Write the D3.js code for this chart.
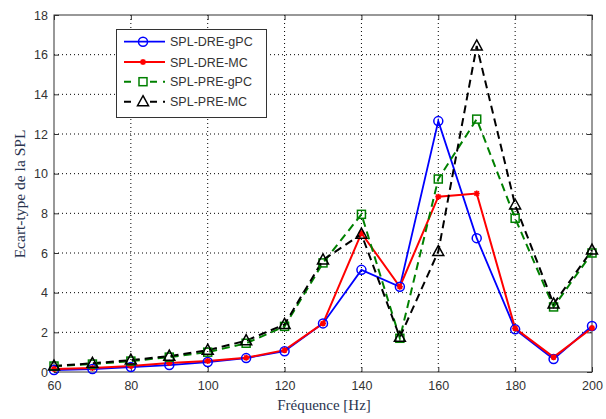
<!DOCTYPE html>
<html><head><meta charset="utf-8">
<script src="https://cdn.jsdelivr.net/npm/d3@7"></script>
<style>body{margin:0;background:#fff}svg{display:block}</style>
</head><body>
<svg id="c" width="606" height="419"></svg>
<script>
const freq = [60,70,80,90,100,110,120,130,140,150,160,170,180,190,200];
const dreGpc = [0.1,0.15,0.25,0.35,0.5,0.7,1.05,2.45,5.15,4.3,12.65,6.75,2.15,0.65,2.32];
const dreMc  = [0.15,0.2,0.3,0.45,0.55,0.72,1.1,2.45,7.0,4.3,8.84,9.0,2.2,0.75,2.22];
const preGpc = [0.3,0.4,0.55,0.75,1.0,1.45,2.3,5.5,7.95,1.7,9.73,12.75,7.75,3.28,6.0];
const preMc  = [0.3,0.44,0.6,0.8,1.1,1.58,2.4,5.65,6.95,1.75,6.07,16.44,8.42,3.43,6.15];
const xTicks = [60,80,100,120,140,160,180,200];
const yTicks = [0,2,4,6,8,10,12,14,16,18];
const seriesNames = ["SPL-DRE-gPC","SPL-DRE-MC","SPL-PRE-gPC","SPL-PRE-MC"];

const series = [
  {name:seriesNames[0], values:dreGpc, color:"#0000ff", width:1.8, dash:null, marker:"circle"},
  {name:seriesNames[1], values:dreMc, color:"#ff0000", width:2, dash:null, marker:"star"},
  {name:seriesNames[2], values:preGpc, color:"#008000", width:2, dash:"8,5", marker:"square"},
  {name:seriesNames[3], values:preMc, color:"#000000", width:2, dash:"8,5", marker:"triangle"}
];

const svg = d3.select("#c");
const L=54, R=592, T=15, B=372;
const x = d3.scaleLinear().domain([60,200]).range([L,R]);
const y = d3.scaleLinear().domain([0,18]).range([B,T]);

// grid
const g = svg.append("g");
xTicks.forEach(t=>{ if(t>60 && t<200) g.append("line").attr("x1",x(t)).attr("x2",x(t)).attr("y1",T).attr("y2",B)
  .attr("stroke","#000").attr("stroke-width",1).attr("stroke-dasharray","1,3"); });
yTicks.forEach(t=>{ if(t>0 && t<18) g.append("line").attr("x1",L).attr("x2",R).attr("y1",y(t)).attr("y2",y(t))
  .attr("stroke","#000").attr("stroke-width",1).attr("stroke-dasharray","1,3"); });

// axes
const ax = svg.append("g").attr("transform",`translate(0,${B})`)
  .call(d3.axisBottom(x).tickValues(xTicks).tickSize(-5).tickPadding(9));
const ay = svg.append("g").attr("transform",`translate(${L},0)`)
  .call(d3.axisLeft(y).tickValues(yTicks).tickSize(-5).tickPadding(6));
const axT = svg.append("g").attr("transform",`translate(0,${T})`)
  .call(d3.axisTop(x).tickValues(xTicks).tickSize(-5).tickFormat(""));
const ayR = svg.append("g").attr("transform",`translate(${R},0)`)
  .call(d3.axisRight(y).tickValues(yTicks).tickSize(-5).tickFormat(""));
[ax,ay,axT,ayR].forEach(a=>{
  a.select(".domain").remove();
  a.selectAll("line").attr("stroke","#333");
  a.selectAll("text").attr("fill","#333").style("font-family","'Liberation Sans',Arial,sans-serif").style("font-size","12.5px");
});
svg.append("rect").attr("x",L).attr("y",T).attr("width",R-L).attr("height",B-T)
  .attr("fill","none").attr("stroke","#333").attr("stroke-width",1);

// markers
function drawMarker(sel, type, color){
  if(type==="circle"){
    sel.append("circle").attr("r",4.5).attr("fill","none").attr("stroke",color).attr("stroke-width",1.5);
  } else if(type==="square"){
    sel.append("rect").attr("x",-4).attr("y",-4).attr("width",8).attr("height",8).attr("fill","none").attr("stroke",color).attr("stroke-width",1.5);
  } else if(type==="triangle"){
    sel.append("path").attr("d","M0,-6L5.5,4L-5.5,4Z").attr("fill","none").attr("stroke",color).attr("stroke-width",1.5);
  } else {
    sel.append("path").attr("d","M-3,0H3M0,-3V3M-2.2,-2.2L2.2,2.2M-2.2,2.2L2.2,-2.2").attr("stroke",color).attr("stroke-width",1.6);
  }
}

const line = d3.line().x((d,i)=>x(freq[i])).y(d=>y(d));
series.forEach(s=>{
  svg.append("path").datum(s.values).attr("d",line).attr("fill","none")
    .attr("stroke",s.color).attr("stroke-width",s.width).attr("stroke-dasharray",s.dash);
});
series.forEach(s=>{
  s.values.forEach((v,i)=>{
    const m = svg.append("g").attr("transform",`translate(${x(freq[i])},${y(v)})`);
    drawMarker(m,s.marker,s.color);
  });
});

// legend
const lg = svg.append("g");
lg.append("rect").attr("x",116.5).attr("y",29.5).attr("width",150).attr("height",88)
  .attr("fill","#fff").attr("stroke","#333").attr("stroke-width",1);
const rowY=[41.7,62,81.7,101.7];
series.forEach((s,i)=>{
  const yy=rowY[i];
  lg.append("line").attr("x1",124).attr("x2",165).attr("y1",yy).attr("y2",yy)
    .attr("stroke",s.color).attr("stroke-width",s.width).attr("stroke-dasharray",s.dash?"7,6":null);
  const m=lg.append("g").attr("transform",`translate(143,${yy})`);
  if(s.marker!=="circle" && s.marker!=="star") m.insert("rect").attr("x",-6).attr("y",-6).attr("width",12).attr("height",10).attr("fill","#fff");
  drawMarker(m,s.marker,s.color);
  lg.append("text").attr("x",170).attr("y",yy+4.5).text(s.name)
    .attr("fill","#333").style("font-family","'Liberation Sans',Arial,sans-serif").style("font-size","12.5px");
});

// axis titles
svg.append("text").attr("x",324).attr("y",410).attr("text-anchor","middle").text("Fréquence [Hz]")
  .attr("fill","#2a3550").style("font-family","'Liberation Serif','Times New Roman',serif").style("font-size","15px");
svg.append("text").attr("transform","translate(25,194) rotate(-90)").attr("text-anchor","middle").text("Ecart-type de la SPL")
  .attr("fill","#2a3550").style("font-family","'Liberation Serif','Times New Roman',serif").style("font-size","15.5px");
</script>
</body></html>
